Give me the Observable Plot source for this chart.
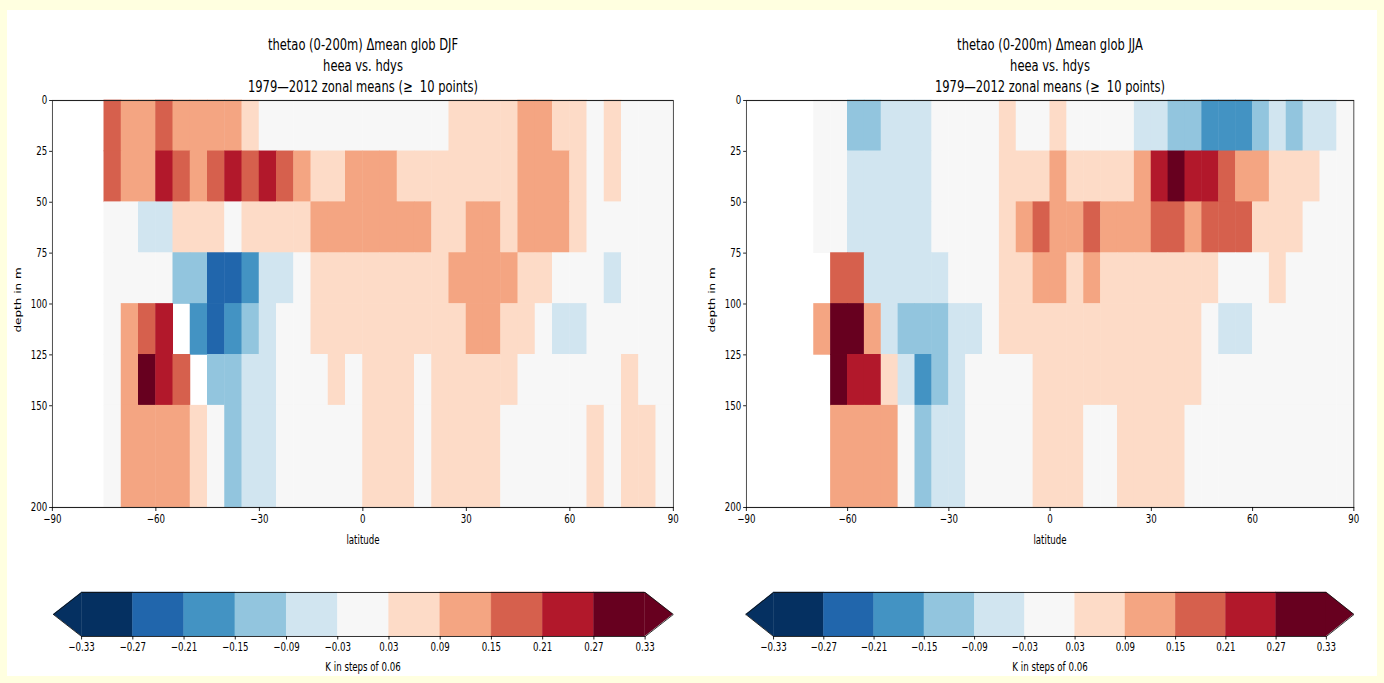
<!DOCTYPE html>
<html><head><meta charset="utf-8">
<script src="https://cdn.jsdelivr.net/npm/d3@7"></script>
<script src="https://cdn.jsdelivr.net/npm/@observablehq/plot@0.6"></script>
<style>
html,body{margin:0;padding:0;background:#ffffe0;}
#fig{position:relative;width:1384px;height:683px;overflow:hidden;font-family:"DejaVu Sans",sans-serif;color:#000;}
#panel{position:absolute;left:7px;top:10px;right:7px;bottom:7px;background:#fff;}
.sv{position:absolute;transform-origin:0 0;}
.t{position:absolute;white-space:pre;text-align:center;width:600px;transform-origin:50% 50%;}
</style></head><body><div id="fig"><div id="panel"></div></div>
<script>
// ---------------- data ----------------
const latEdges = [-90,-85,-80,-75,-70,-65,-60,-55,-50,-45,-40,-35,-30,-25,-20,-15,-10,-5,0,5,10,15,20,25,30,35,40,45,50,55,60,65,70,75,80,85,90];
const depthEdges = [0,25,50,75,100,125,150,200];
const xTicks = [-90,-60,-30,0,30,60,90];
const yTicks = [0,25,50,75,100,125,150,200];
const cbTicks = [-0.33,-0.27,-0.21,-0.15,-0.09,-0.03,0.03,0.09,0.15,0.21,0.27,0.33];
const thresholds = [-0.27,-0.21,-0.15,-0.09,-0.03,0.03,0.09,0.15,0.21,0.27];
const colors = ["#053061","#2166ac","#4393c3","#92c5de","#d1e5f0","#f7f7f7","#fddbc7","#f4a582","#d6604d","#b2182b","#67001f"];
const _ = null;
// DJF: rows = depth bins, columns = 5-degree latitude bins (-90..90)
const djf0 = [_,_,_,0.18,0.12,0.12,0.18,0.12,0.12,0.12,0.12,0.06,0,0,0,0,0,0,0,0,0,0,0,0.06,0.06,0.06,0.06,0.12,0.12,0.06,0.06,0,0.06,0,0,0];
const djf1 = [_,_,_,0.18,0.12,0.12,0.24,0.18,0.12,0.18,0.24,0.18,0.24,0.18,0.12,0.06,0.06,0.12,0.12,0.12,0.06,0.06,0.06,0.06,0.06,0.06,0.06,0.12,0.12,0.12,0.06,0,0.06,0,0,0];
const djf2 = [_,_,_,0,0,-0.06,-0.06,0.06,0.06,0.06,0,0.06,0.06,0.06,0.06,0.12,0.12,0.12,0.12,0.12,0.12,0.12,0.06,0.06,0.12,0.12,0.06,0.12,0.12,0.12,0.06,0,0,0,0,0];
const djf3 = [_,_,_,0,0,0,0,-0.12,-0.12,-0.24,-0.24,-0.18,-0.06,-0.06,0,0.06,0.06,0.06,0.06,0.06,0.06,0.06,0.06,0.12,0.12,0.12,0.12,0.06,0.06,0,0,0,-0.06,0,0,0];
const djf4 = [_,_,_,0,0.12,0.18,0.24,_,-0.18,-0.24,-0.18,-0.12,-0.06,0,0,0.06,0.06,0.06,0.06,0.06,0.06,0.06,0.06,0.06,0.12,0.12,0.06,0.06,0,-0.06,-0.06,0,0,0,0,0];
const djf5 = [_,_,_,0,0.12,0.30,0.24,0.18,_,-0.12,-0.12,-0.06,-0.06,0,0,0,0.06,0,0.06,0.06,0.06,0,0.06,0.06,0.06,0.06,0.06,0,0,0,0,0,0,0.06,0,0];
const djf6 = [_,_,_,0,0.12,0.12,0.12,0.12,0.06,0,-0.12,-0.06,-0.06,0,0,0,0,0,0.06,0.06,0.06,0,0.06,0.06,0.06,0.06,0,0,0,0,0,0.06,0,0.06,0.06,0];
// JJA
const jja0 = [_,_,_,_,0,0,-0.12,-0.12,-0.06,-0.06,-0.06,0,0,0,0,0.06,0,0,0.06,0,0,0,0,-0.06,-0.06,-0.12,-0.12,-0.18,-0.18,-0.18,-0.12,-0.06,-0.12,-0.06,-0.06,0];
const jja1 = [_,_,_,_,0,0,-0.06,-0.06,-0.06,-0.06,-0.06,0,0,0,0,0.06,0.06,0.06,0.12,0.06,0.06,0.06,0.06,0.12,0.24,0.30,0.24,0.24,0.18,0.12,0.12,0.06,0.06,0.06,0,0];
const jja2 = [_,_,_,_,0,0,-0.06,-0.06,-0.06,-0.06,-0.06,0,0,0,0,0.06,0.12,0.18,0.12,0.12,0.18,0.12,0.12,0.12,0.18,0.18,0.12,0.18,0.18,0.18,0.06,0.06,0.06,0,0,0];
const jja3 = [_,_,_,_,_,0.18,0.18,-0.06,-0.06,-0.06,-0.06,-0.06,0,0,0,0.06,0.06,0.12,0.12,0.06,0.12,0.06,0.06,0.06,0.06,0.06,0.06,0.06,0,0,0,0.06,0,0,0,0];
const jja4 = [_,_,_,_,0.12,0.30,0.30,0.12,-0.06,-0.12,-0.12,-0.12,-0.06,-0.06,0,0.06,0.06,0.06,0.06,0.06,0.06,0.06,0.06,0.06,0.06,0.06,0.06,0,-0.06,-0.06,0,0,0,0,0,0];
const jja5 = [_,_,_,_,_,0.30,0.24,0.24,0.06,-0.06,-0.18,-0.12,-0.06,0,0,0,0,0.06,0.06,0.06,0.06,0.06,0.06,0.06,0.06,0.06,0.06,0,0,0,0,0,0,0,0,0];
const jja6 = [_,_,_,_,_,0.12,0.12,0.12,0.12,0,-0.12,-0.06,-0.06,0,0,0,0,0.06,0.06,0.06,0,0,0.06,0.06,0.06,0.06,0,0,0,0,0,0,0,0,0,0];

const djfRows = [djf0,djf1,djf2,djf3,djf4,djf5,djf6];
const jjaRows = [jja0,jja1,jja2,jja3,jja4,jja5,jja6];
const titlesDJF = ["thetao (0-200m) \u0394mean glob DJF","heea vs. hdys","1979\u20142012 zonal means (\u2265  10 points)"];
const titlesJJA = ["thetao (0-200m) \u0394mean glob JJA","heea vs. hdys","1979\u20142012 zonal means (\u2265  10 points)"];
const xLabel = "latitude", yLabel = "depth in m", cbLabel = "K in steps of 0.06";

// ---------------- layout ----------------
const K = 0.72;           // horizontal squash of the original figure
const FONT = "DejaVu Sans";
const TICK = 12;
const fig = document.getElementById("fig");

function cells(rows){
  const out = [];
  rows.forEach((row, r) => row.forEach((v, c) => {
    if (v !== null) out.push({x1: latEdges[c], x2: latEdges[c+1], y1: depthEdges[r], y2: depthEdges[r+1], v});
  }));
  return out;
}
const colorOpt = {type: "threshold", domain: thresholds, range: colors};

function place(node, left, top){
  node.classList.add("sv");
  node.style.left = left + "px";
  node.style.top = top + "px";
  node.style.transform = `scaleX(${K})`;
  fig.appendChild(node);
}
function text(str, cx, cy, size, rotate){
  const d = document.createElement("div");
  d.className = "t";
  d.textContent = str;
  d.style.fontSize = size + "px";
  d.style.lineHeight = "20px";
  d.style.left = (cx - 300) + "px";
  d.style.top = (cy - 10) + "px";
  d.style.transform = rotate ? `scaleX(${K}) rotate(-90deg)` : `scaleX(${K})`;
  fig.appendChild(d);
}

function heat(rows, left, frameL, frameR){
  const W = 690;
  const p = Plot.plot({
    width: W / K, height: 470,
    marginLeft: (frameL - left) / K, marginRight: (left + W - frameR) / K,
    marginTop: 10, marginBottom: 53,
    x: {domain: [-90, 90]},
    y: {domain: [0, 200], reverse: true},
    color: colorOpt,
    style: {fontFamily: FONT, fontSize: TICK + "px", background: "transparent", color: "#000", overflow: "visible"},
    marks: [
      Plot.rect(cells(rows), {x1: "x1", x2: "x2", y1: "y1", y2: "y2", fill: "v", inset: -0.35}),
      Plot.frame({stroke: "#222", strokeWidth: 1.1}),
      Plot.axisX({ticks: xTicks, tickFormat: d3.format("d"), tickSize: 4, tickPadding: 3, label: null, fontSize: TICK}),
      Plot.axisY({ticks: yTicks, tickFormat: d3.format("d"), tickSize: 4, tickPadding: 3, label: null, fontSize: TICK})
    ]
  });
  place(p, left, 90);
}

function cbar(left, tipL, tipR){
  const W = 690;
  const step = cbTicks[1] - cbTicks[0];
  const ext = step * 0.55;
  const lo = cbTicks[0], hi = cbTicks[cbTicks.length - 1];
  const segs = cbTicks.slice(0, -1).map((t, i) => ({x1: t, x2: cbTicks[i + 1], v: (t + cbTicks[i + 1]) / 2}));
  const tris = [
    {x: lo - ext, y1: 0.5, y2: 0.5, v: lo - ext, s: "a"}, {x: lo, y1: 0, y2: 1, v: lo - ext, s: "a"},
    {x: hi, y1: 0, y2: 1, v: hi + ext, s: "b"}, {x: hi + ext, y1: 0.5, y2: 0.5, v: hi + ext, s: "b"}
  ];
  const outline = [
    {x: lo - ext, y: 0.5}, {x: lo, y: 1}, {x: hi, y: 1}, {x: hi + ext, y: 0.5},
    {x: hi, y: 0}, {x: lo, y: 0}, {x: lo - ext, y: 0.5}
  ];
  const p = Plot.plot({
    width: W / K, height: 82,
    marginLeft: (tipL - left) / K, marginRight: (left + W - tipR) / K,
    marginTop: 7, marginBottom: 31,
    x: {domain: [lo - ext, hi + ext]},
    y: {domain: [0, 1], axis: null},
    color: colorOpt,
    style: {fontFamily: FONT, fontSize: TICK + "px", background: "transparent", color: "#000", overflow: "visible"},
    marks: [
      Plot.rect(segs, {x1: "x1", x2: "x2", y1: 0, y2: 1, fill: "v", stroke: "v", strokeWidth: 0.5}),
      Plot.areaY(tris, {x: "x", y1: "y1", y2: "y2", z: "s", fill: "v"}),
      Plot.line(outline, {x: "x", y: "y", stroke: "#111", strokeWidth: 1}),
      Plot.axisX({ticks: cbTicks, tickFormat: d3.format(".2f"), tickSize: 3.5, tickPadding: 2, label: null, fontSize: TICK})
    ]
  });
  place(p, left, 585);
}

// left (DJF)
heat(djfRows, 0, 52, 673);
cbar(0, 53, 673);
// right (JJA)
heat(jjaRows, 694, 746, 1353.5);
cbar(694, 745.5, 1353.7);

[[titlesDJF, 362.5], [titlesJJA, 1050]].forEach(([tt, cx]) => {
  text(tt[0], cx, 45, 16);
  text(tt[1], cx, 66, 16);
  text(tt[2], cx, 87, 16);
  text(xLabel, cx, 540, 12);
  text(cbLabel, cx, 667, 12);
});
text(yLabel, 18, 300, 12, true);
text(yLabel, 712, 300, 12, true);
</script></body></html>
